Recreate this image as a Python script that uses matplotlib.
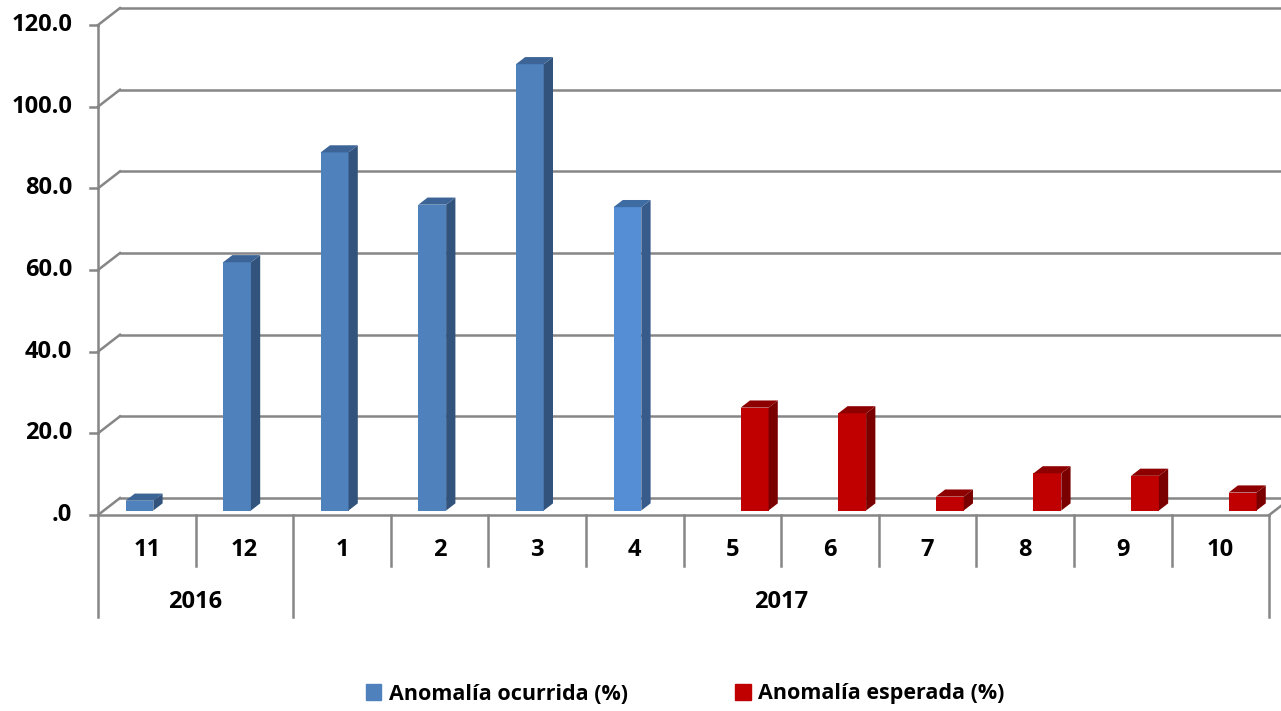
import matplotlib
matplotlib.use("Agg")
import matplotlib.pyplot as plt
from matplotlib.patches import Polygon, Patch

# data
months = ["11", "12", "1", "2", "3", "4", "5", "6", "7", "8", "9", "10"]
years = ["2016", "2017"]
year_spans = [(0, 2), (2, 12)]
ocurrida = [2.4, 60.8, 87.7, 74.9, 109.3, 74.3]          # months 11..4
esperada = [25.2, 23.8, 3.4, 9.1, 8.5, 4.4]              # months 5..10
yticks = [0, 20, 40, 60, 80, 100, 120]
ytick_labels = [".0", "20.0", "40.0", "60.0", "80.0", "100.0", "120.0"]

plt.rcParams['font.family'] = ['Open Sans', 'DejaVu Sans']
plt.rcParams['font.weight'] = 'bold'

fig = plt.figure(figsize=(12.81, 7.11), dpi=100)
ax = fig.add_axes([0, 0, 1, 1])
ax.set_xlim(-1.004, 12.121)
ax.set_ylim(-48.0, 126.13)
ax.axis('off')

grid_c = '#868686'
lw = 1.8
ddx, ddy = 0.2254, 4.16      # depth of the floor/back wall
n = len(months)
fs = 17

# back wall gridlines + left wall diagonals
for v in yticks:
    ax.plot([ddx, 12.2], [v + ddy, v + ddy], color=grid_c, lw=lw, zorder=1)
    ax.plot([0, ddx], [v, v + ddy], color=grid_c, lw=lw, zorder=1)
    ax.plot([-0.08, 0], [v, v], color=grid_c, lw=lw, zorder=1)
# front y axis
ax.plot([0, 0], [0, 120], color=grid_c, lw=lw, zorder=1)
# floor front edge and right diagonal
ax.plot([0, n], [0, 0], color=grid_c, lw=lw, zorder=1)
ax.plot([n, n + ddx], [0, ddy], color=grid_c, lw=lw, zorder=1)

# category dividers
for i in range(n + 1):
    bottom = -25.0 if i in (0, 2, 12) else -12.5
    ax.plot([i, i], [0, bottom], color=grid_c, lw=lw, zorder=1)

for v, lab in zip(yticks, ytick_labels):
    ax.text(-0.266, v, lab, ha='right', va='center', fontsize=fs,
            fontweight='bold')
for i, m in enumerate(months):
    ax.text(i + 0.5, -8.6, m, ha='center', va='center', fontsize=fs,
            fontweight='bold')
for y, (a, b) in zip(years, year_spans):
    ax.text((a + b) / 2, -21.3, y, ha='center', va='center', fontsize=fs,
            fontweight='bold')

base = 1.1
bw = 0.285
bdx, bdy = 0.095, 1.75


def bar3d(x0, h, face, side, top):
    ax.bar(x0, h, width=bw, bottom=base, align='edge', color=face,
           edgecolor='none', zorder=3)
    y1 = base + h
    ax.add_patch(Polygon([(x0 + bw, base), (x0 + bw + bdx, base + bdy),
                          (x0 + bw + bdx, y1 + bdy), (x0 + bw, y1)],
                         closed=True, color=side, lw=0, zorder=3))
    ax.add_patch(Polygon([(x0, y1), (x0 + bdx, y1 + bdy),
                          (x0 + bw + bdx, y1 + bdy), (x0 + bw, y1)],
                         closed=True, color=top, lw=0, zorder=3))


for i, h in enumerate(ocurrida):
    if i == 5:
        bar3d(i + 0.282, h, '#558ED5', '#375C8C', '#3F6BA3')
    else:
        bar3d(i + 0.282, h, '#4F81BD', '#32537C', '#3C6496')
for j, h in enumerate(esperada):
    bar3d(6 + j + 0.585, h, '#C00000', '#7A0000', '#8E0000')

handles = [Patch(color='#4F81BD', label='Anomalía ocurrida (%)'),
           Patch(color='#C00000', label='Anomalía esperada (%)')]
fig.legend(handles=handles, loc='center', bbox_to_anchor=(0.535, 1 - 694 / 711),
           ncol=2, frameon=False, handlelength=0.7,
           handleheight=0.7, handletextpad=0.35, columnspacing=5.0,
           prop={'weight': 'bold', 'size': 15.5})

fig.savefig('out.png', dpi=100)
